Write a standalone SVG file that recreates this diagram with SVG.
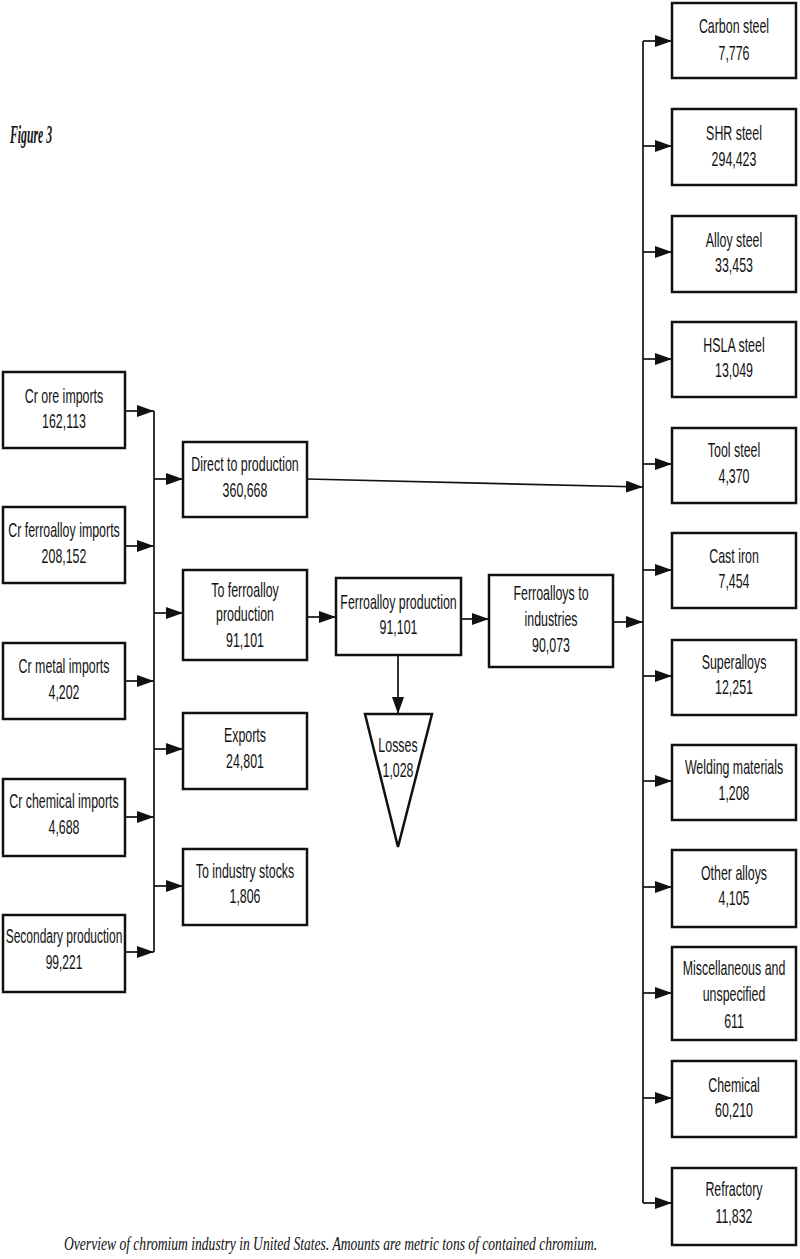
<svg xmlns="http://www.w3.org/2000/svg" width="800" height="1259" viewBox="0 0 800 1259">
<defs>
<marker id="ah" markerUnits="userSpaceOnUse" markerWidth="17" markerHeight="12" refX="17" refY="6" orient="auto">
<path d="M0,0 L17,6 L0,12 Z" fill="#111"/>
</marker>
<style>
.box{fill:#fff;stroke:#111;stroke-width:2.5}
.ln{fill:none;stroke:#111;stroke-width:1.7}
.ar{fill:none;stroke:#111;stroke-width:1.7;marker-end:url(#ah)}
.t text{font-family:"Liberation Sans",Arial,sans-serif;font-size:20px;fill:#111;text-anchor:middle}
</style>
</defs>
<rect width="800" height="1259" fill="#fff"/>
<g transform="translate(10 0) scale(0.47 1)"><text x="0" y="143" style="font-family:'Liberation Serif',serif;font-style:italic;font-weight:bold;font-size:25px;fill:#111">Figure 3</text></g>

<g id="connectors">
<path class="ar" d="M125,411 H154"/>
<path class="ar" d="M125,546 H154"/>
<path class="ar" d="M125,681 H154"/>
<path class="ar" d="M125,817 H154"/>
<path class="ar" d="M125,952 H154"/>
<path class="ln" d="M154,411 V952"/>
<path class="ar" d="M154,479 H183"/>
<path class="ar" d="M154,613 H183"/>
<path class="ar" d="M154,749 H183"/>
<path class="ar" d="M154,886 H183"/>
<path class="ar" d="M307,479 L643,487"/>
<path class="ar" d="M307,617 H336"/>
<path class="ar" d="M461,619 H489"/>
<path class="ar" d="M398,655 V714"/>
<path class="ar" d="M613,622 H643"/>
<path class="ln" d="M643,41 V1203"/>
<path class="ar" d="M643,41 H672"/>
<path class="ar" d="M643,146 H672"/>
<path class="ar" d="M643,252 H672"/>
<path class="ar" d="M643,359 H672"/>
<path class="ar" d="M643,464 H672"/>
<path class="ar" d="M643,570 H672"/>
<path class="ar" d="M643,676 H672"/>
<path class="ar" d="M643,781 H672"/>
<path class="ar" d="M643,887 H672"/>
<path class="ar" d="M643,993 H672"/>
<path class="ar" d="M643,1098 H672"/>
<path class="ar" d="M643,1203 H672"/>
</g>

<g id="cr-ore"><rect class="box" x="3" y="372" width="122" height="76"/>
<g class="t" transform="translate(64 0) scale(0.62 1)"><text x="0" y="403">Cr ore imports</text><text x="0" y="428">162,113</text></g></g>
<g id="cr-ferroalloy"><rect class="box" x="3" y="507" width="122" height="76"/>
<g class="t" transform="translate(64 0) scale(0.62 1)"><text x="0" y="537">Cr ferroalloy imports</text><text x="0" y="563">208,152</text></g></g>
<g id="cr-metal"><rect class="box" x="3" y="643" width="122" height="76"/>
<g class="t" transform="translate(64 0) scale(0.62 1)"><text x="0" y="673">Cr metal imports</text><text x="0" y="699">4,202</text></g></g>
<g id="cr-chemical"><rect class="box" x="3" y="779" width="122" height="77"/>
<g class="t" transform="translate(64 0) scale(0.62 1)"><text x="0" y="808">Cr chemical imports</text><text x="0" y="834">4,688</text></g></g>
<g id="secondary"><rect class="box" x="3" y="915" width="122" height="77"/>
<g class="t" transform="translate(64 0) scale(0.6 1)"><text x="0" y="943">Secondary production</text><text x="0" y="969">99,221</text></g></g>

<g id="direct"><rect class="box" x="183" y="442" width="124" height="75"/>
<g class="t" transform="translate(245 0) scale(0.62 1)"><text x="0" y="471">Direct to production</text><text x="0" y="497">360,668</text></g></g>
<g id="to-ferroalloy"><rect class="box" x="183" y="570" width="124" height="90"/>
<g class="t" transform="translate(245 0) scale(0.62 1)"><text x="0" y="597">To ferroalloy</text><text x="0" y="621">production</text><text x="0" y="647">91,101</text></g></g>
<g id="exports"><rect class="box" x="183" y="713" width="124" height="76"/>
<g class="t" transform="translate(245 0) scale(0.62 1)"><text x="0" y="742">Exports</text><text x="0" y="768">24,801</text></g></g>
<g id="stocks"><rect class="box" x="183" y="849" width="124" height="76"/>
<g class="t" transform="translate(245 0) scale(0.62 1)"><text x="0" y="878">To industry stocks</text><text x="0" y="903">1,806</text></g></g>

<g id="ferroalloy-production"><rect class="box" x="336" y="578" width="125" height="77"/>
<g class="t" transform="translate(398.5 0) scale(0.62 1)"><text x="0" y="609">Ferroalloy production</text><text x="0" y="634">91,101</text></g></g>
<g id="ferroalloys-to-industries"><rect class="box" x="489" y="575" width="124" height="92"/>
<g class="t" transform="translate(551 0) scale(0.62 1)"><text x="0" y="600">Ferroalloys to</text><text x="0" y="626">industries</text><text x="0" y="652">90,073</text></g></g>
<g id="losses"><path class="box" d="M365,714 L432,714 L398,847 Z"/>
<g class="t" transform="translate(398 0) scale(0.62 1)"><text x="0" y="752">Losses</text><text x="0" y="777">1,028</text></g></g>

<g id="carbon-steel"><rect class="box" x="672" y="3" width="124" height="75"/>
<g class="t" transform="translate(734 0) scale(0.62 1)"><text x="0" y="33">Carbon steel</text><text x="0" y="60">7,776</text></g></g>
<g id="shr-steel"><rect class="box" x="672" y="109" width="124" height="76"/>
<g class="t" transform="translate(734 0) scale(0.62 1)"><text x="0" y="140">SHR steel</text><text x="0" y="166">294,423</text></g></g>
<g id="alloy-steel"><rect class="box" x="672" y="216" width="124" height="76"/>
<g class="t" transform="translate(734 0) scale(0.62 1)"><text x="0" y="247">Alloy steel</text><text x="0" y="272">33,453</text></g></g>
<g id="hsla-steel"><rect class="box" x="672" y="322" width="124" height="75"/>
<g class="t" transform="translate(734 0) scale(0.62 1)"><text x="0" y="352">HSLA steel</text><text x="0" y="377">13,049</text></g></g>
<g id="tool-steel"><rect class="box" x="672" y="428" width="124" height="75"/>
<g class="t" transform="translate(734 0) scale(0.62 1)"><text x="0" y="457">Tool steel</text><text x="0" y="483">4,370</text></g></g>
<g id="cast-iron"><rect class="box" x="672" y="533" width="124" height="75"/>
<g class="t" transform="translate(734 0) scale(0.62 1)"><text x="0" y="563">Cast iron</text><text x="0" y="588">7,454</text></g></g>
<g id="superalloys"><rect class="box" x="672" y="640" width="124" height="75"/>
<g class="t" transform="translate(734 0) scale(0.62 1)"><text x="0" y="669">Superalloys</text><text x="0" y="694">12,251</text></g></g>
<g id="welding"><rect class="box" x="672" y="745" width="124" height="75"/>
<g class="t" transform="translate(734 0) scale(0.62 1)"><text x="0" y="774">Welding materials</text><text x="0" y="800">1,208</text></g></g>
<g id="other-alloys"><rect class="box" x="672" y="850" width="124" height="77"/>
<g class="t" transform="translate(734 0) scale(0.62 1)"><text x="0" y="880">Other alloys</text><text x="0" y="905">4,105</text></g></g>
<g id="misc"><rect class="box" x="672" y="947" width="124" height="93"/>
<g class="t" transform="translate(734 0) scale(0.62 1)"><text x="0" y="975">Miscellaneous and</text><text x="0" y="1001">unspecified</text><text x="0" y="1028">611</text></g></g>
<g id="chemical"><rect class="box" x="672" y="1061" width="124" height="76"/>
<g class="t" transform="translate(734 0) scale(0.62 1)"><text x="0" y="1092">Chemical</text><text x="0" y="1117">60,210</text></g></g>
<g id="refractory"><rect class="box" x="672" y="1168" width="124" height="77"/>
<g class="t" transform="translate(734 0) scale(0.62 1)"><text x="0" y="1196">Refractory</text><text x="0" y="1223">11,832</text></g></g>

<g transform="translate(64 0) scale(0.715 1)"><text x="0" y="1250" style="font-family:'Liberation Serif',serif;font-style:italic;font-size:19px;fill:#111">Overview of chromium industry in United States.  Amounts are metric tons of contained chromium.</text></g>
</svg>
